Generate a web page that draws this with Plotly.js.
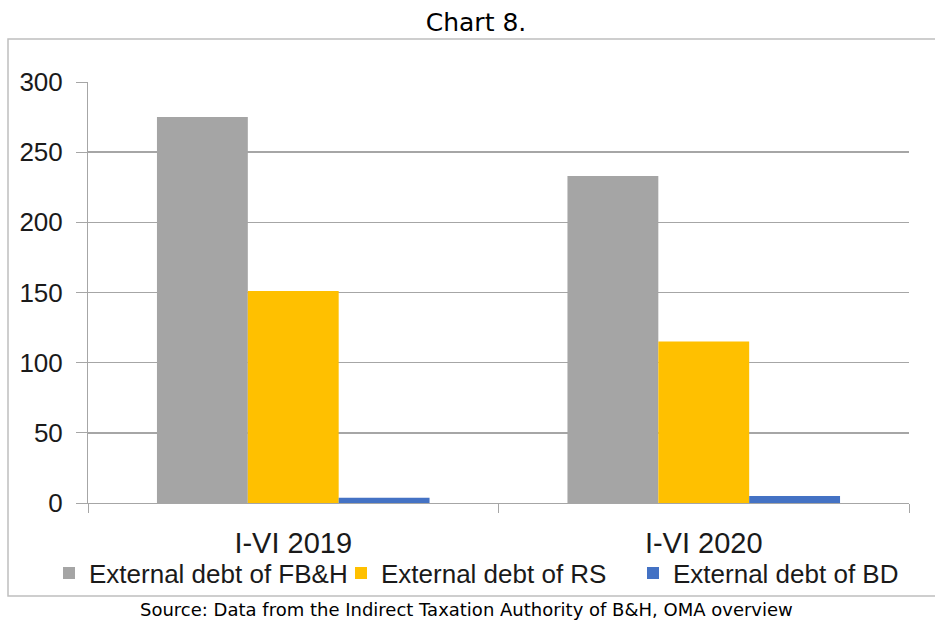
<!DOCTYPE html>
<html><head><meta charset="utf-8">
<script src="https://cdn.plot.ly/plotly-3.0.1.min.js"></script>
<style>html,body{margin:0;padding:0;background:#fff;}#chart{width:935px;height:625px;}</style>
</head><body><div id="chart"></div>
<script>
const categories = ["I-VI 2019", "I-VI 2020"];
const seriesNames = ["External debt of FB&H", "External debt of RS", "External debt of BD"];
const fbh = [275, 233];
const rs = [151, 115];
const bd = [3.8, 5.0];
const colors = ["#a5a5a5", "#ffc000", "#4472c4"];
const yTicks = [0, 50, 100, 150, 200, 250, 300];

const sans = "Liberation Sans, Arial, sans-serif";
const traces = [fbh, rs, bd].map((vals, i) => ({
  type: "bar", x: categories, y: vals, name: seriesNames[i],
  marker: {color: colors[i]}, hoverinfo: "none"
}));

// plot area: x 88..909, y 82..503
const L = 88, R = 935 - 909, T = 82, B = 625 - 503;
const pw = 935 - L - R, ph = 625 - T - B;
const px = v => (v - L) / pw, py = v => (625 - B - v) / ph;

const layout = {
  width: 935, height: 625,
  margin: {l: L, r: R, t: T, b: B, pad: 0},
  paper_bgcolor: "#fff", plot_bgcolor: "#fff",
  barmode: "group", bargap: 0.336, bargroupgap: 0,
  showlegend: true,
  legend: {orientation: "h", x: px(49), xanchor: "left", y: py(573), yanchor: "middle",
    bgcolor: "rgba(0,0,0,0)",
    font: {family: sans, size: 26, color: "#1a1a1a"}, entrywidth: 247, entrywidthmode: "pixels",
    itemwidth: 30, traceorder: "normal"},
  xaxis: {type: "category", showline: true, linecolor: "#a6a6a6", linewidth: 1,
    ticks: "outside", tickson: "boundaries", ticklen: 9, tickcolor: "#a6a6a6",
    tickfont: {family: sans, size: 29, color: "#1a1a1a"}, showgrid: false, zeroline: false,
    ticklabelstandoff: 14},
  yaxis: {range: [0, 300], tickvals: yTicks, ticktext: yTicks.map(String),
    showline: true, linecolor: "#a6a6a6", linewidth: 1,
    ticks: "outside", ticklen: 11, tickcolor: "#a6a6a6",
    gridcolor: "#a6a6a6", gridwidth: 1.5, zeroline: false,
    tickfont: {family: sans, size: 26, color: "#1a1a1a"}, ticklabelstandoff: 8},
  title: {text: "Chart 8.", font: {family: "DejaVu Sans, sans-serif", size: 25, color: "#000"},
    x: 476 / 935, xanchor: "center", y: 1 - 22 / 625, yanchor: "middle", xref: "container"},
  shapes: [{type: "rect", xref: "paper", yref: "paper",
    x0: px(8), x1: px(940), y0: py(596), y1: py(39),
    line: {color: "#bfbfbf", width: 1.5}, fillcolor: "rgba(0,0,0,0)", layer: "below"}],
  annotations: [{text: "Source: Data from the Indirect Taxation Authority of B&H, OMA overview",
    xref: "paper", yref: "paper", x: px(466), y: py(609), xanchor: "center", yanchor: "middle",
    showarrow: false, font: {family: "DejaVu Sans, sans-serif", size: 18, color: "#000"}}]
};
Plotly.newPlot("chart", traces, layout, {displayModeBar: false, staticPlot: true});
</script></body></html>
